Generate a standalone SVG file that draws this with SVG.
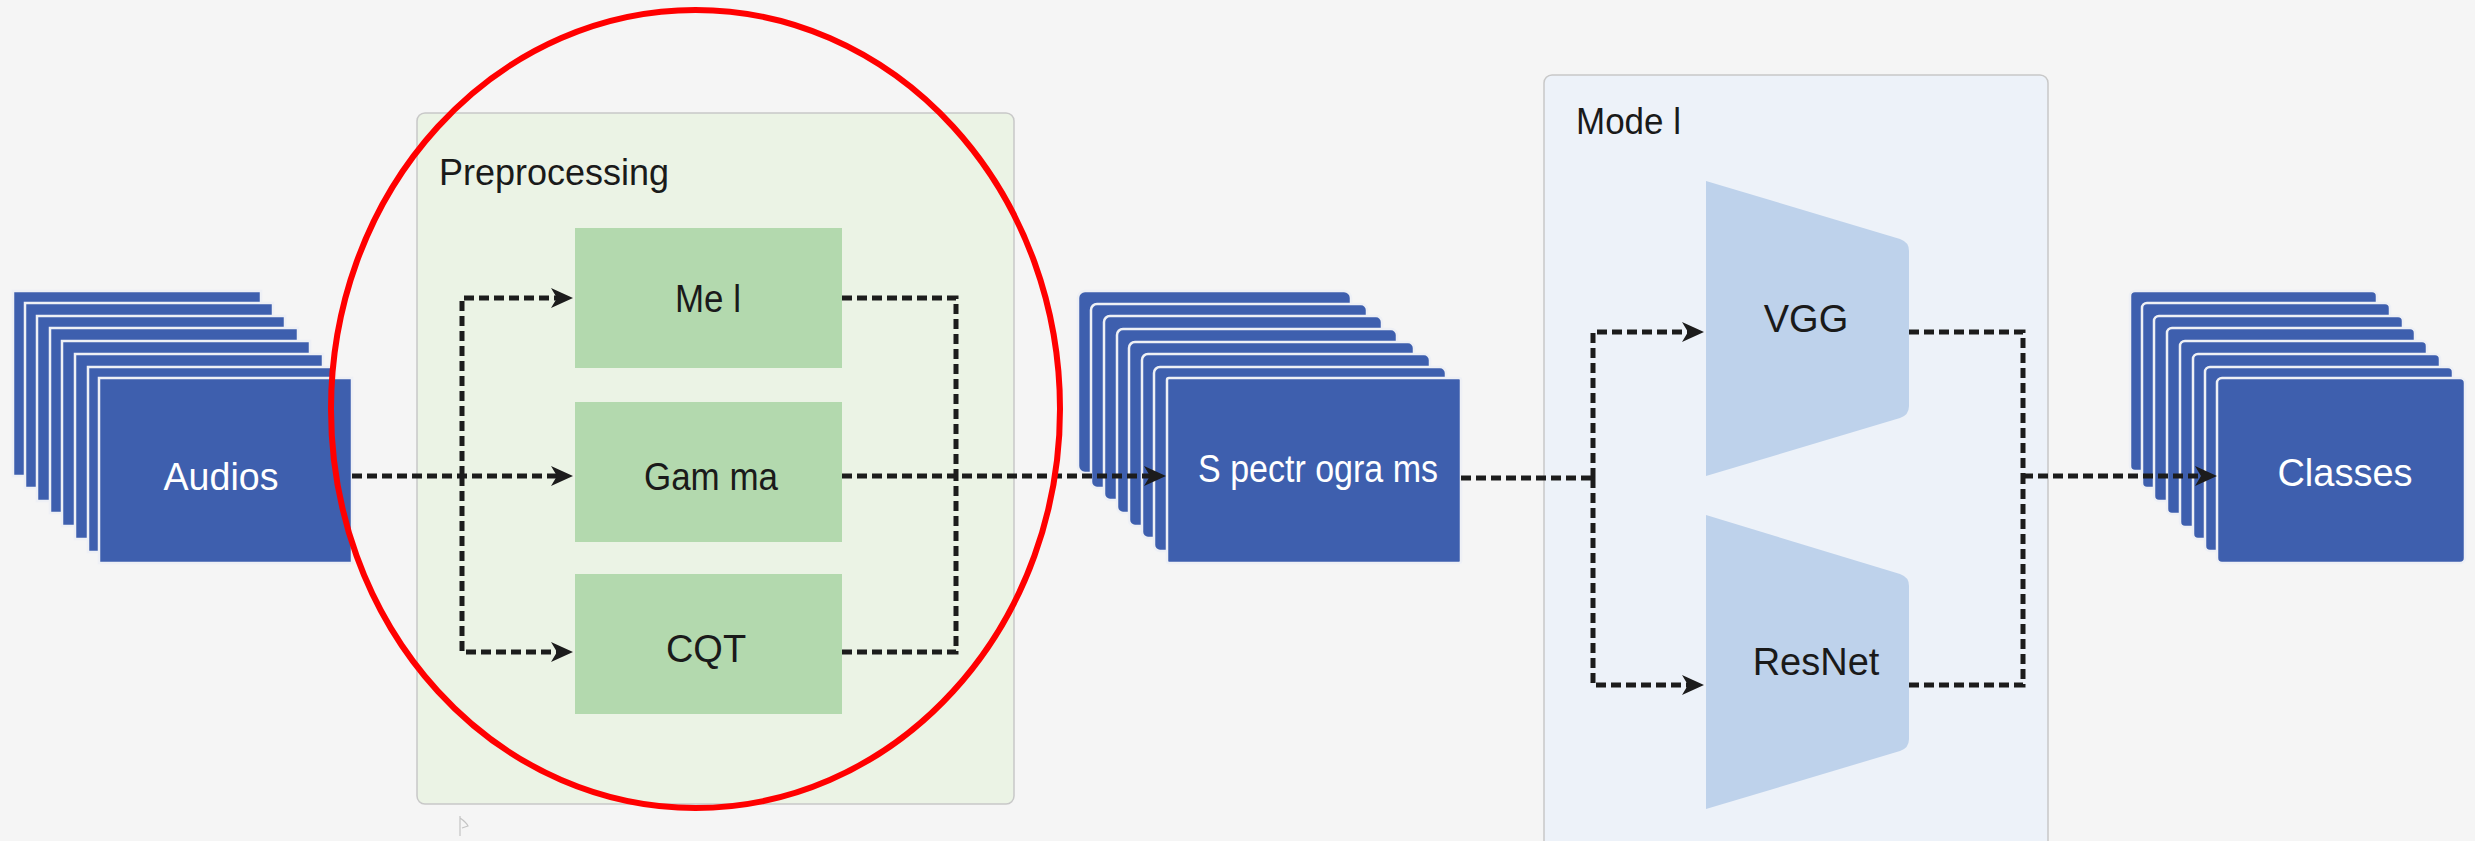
<svg xmlns="http://www.w3.org/2000/svg" width="2475" height="841" viewBox="0 0 2475 841">
  <style>
    .bg { fill: #f5f5f5; }
    .layer { fill: #3e5fae; stroke: #eef0f5; stroke-width: 2.5; }
    .group-pre { fill: #ebf3e5; stroke: #c8c8c8; stroke-width: 1.5; }
    .group-model { fill: #edf2f9; stroke: #c8c8c8; stroke-width: 1.5; }
    .step { fill: #b3d9ae; }
    .net { fill: #bed2eb; }
    .title { font-family: "Liberation Sans", Arial, sans-serif; font-size: 37px; fill: #1a1a1a; }
    .label { font-family: "Liberation Sans", Arial, sans-serif; font-size: 38px; fill: #1a1a1a; text-anchor: middle; }
    .label-w { font-family: "Liberation Sans", Arial, sans-serif; font-size: 38px; fill: #ffffff; text-anchor: middle; }
    .flow { fill: none; stroke: #1c1c1c; stroke-width: 5; stroke-dasharray: 10 5; }
    .mark { fill: none; stroke: #ff0000; stroke-width: 6; }
  </style>
  <defs>
    <marker id="arrow" viewBox="0 0 22 22" refX="11" refY="11" markerWidth="22" markerHeight="22" markerUnits="userSpaceOnUse" orient="auto" overflow="visible">
      <path d="M0,1 L22,11 L0,21 L6,11 Z" fill="#1c1c1c"/>
    </marker>
  </defs>

  <rect class="bg" x="0" y="0" width="2475" height="841"/>

  <!-- containers -->
  <g id="preprocessing">
    <rect class="group-pre" x="417" y="113" width="597" height="691" rx="8"/>
    <text class="title" x="439" y="185" textLength="230" lengthAdjust="spacingAndGlyphs">Preprocessing</text>
  </g>
  <g id="model">
    <rect class="group-model" x="1544" y="75" width="504" height="800" rx="8"/>
    <text class="title" x="1576" y="134" textLength="105" lengthAdjust="spacingAndGlyphs">Mode l</text>
  </g>

  <!-- input stack -->
  <g id="audios">
    <rect class="layer" x="13" y="291" width="248" height="185"/>
    <rect class="layer" x="25" y="303" width="248" height="185"/>
    <rect class="layer" x="37" y="316" width="248" height="185"/>
    <rect class="layer" x="50" y="328" width="248" height="185"/>
    <rect class="layer" x="62" y="341" width="248" height="185"/>
    <rect class="layer" x="75" y="354" width="248" height="185"/>
    <rect class="layer" x="88" y="367" width="248" height="185"/>
    <rect class="layer" x="99" y="378" width="253" height="185"/>
    <text class="label-w" x="221" y="490" textLength="115" lengthAdjust="spacingAndGlyphs">Audios</text>
  </g>

  <!-- transforms -->
  <g id="mel">
    <rect class="step" x="575" y="228" width="267" height="140"/>
    <text class="label" x="708" y="312" textLength="66" lengthAdjust="spacingAndGlyphs">Me l</text>
  </g>
  <g id="gamma">
    <rect class="step" x="575" y="402" width="267" height="140"/>
    <text class="label" x="711" y="490" textLength="134" lengthAdjust="spacingAndGlyphs">Gam ma</text>
  </g>
  <g id="cqt">
    <rect class="step" x="575" y="574" width="267" height="140"/>
    <text class="label" x="706" y="662">CQT</text>
  </g>

  <!-- spectrogram stack -->
  <g id="spectrograms">
    <rect class="layer" x="1078" y="291" width="273" height="182" rx="7"/>
    <rect class="layer" x="1091" y="304" width="276" height="184" rx="6"/>
    <rect class="layer" x="1104" y="316" width="278" height="184" rx="6"/>
    <rect class="layer" x="1117" y="329" width="280" height="184" rx="6"/>
    <rect class="layer" x="1129" y="342" width="285" height="184" rx="6"/>
    <rect class="layer" x="1142" y="354" width="288" height="184" rx="6"/>
    <rect class="layer" x="1154" y="367" width="292" height="184" rx="6"/>
    <rect class="layer" x="1167" y="378" width="294" height="185" rx="2"/>
    <text class="label-w" x="1318" y="482" textLength="240" lengthAdjust="spacingAndGlyphs">S pectr ogra ms</text>
  </g>

  <!-- networks -->
  <g id="vgg">
    <path class="net" d="M1706,181 L1900,239 Q1909,242 1909,251 L1909,406 Q1909,415 1900,418 L1706,476 Z"/>
    <text class="label" x="1806" y="332">VGG</text>
  </g>
  <g id="resnet">
    <path class="net" d="M1706,515 L1900,574 Q1909,577 1909,586 L1909,739 Q1909,748 1900,751 L1706,809 Z"/>
    <text class="label" x="1816" y="675">ResNet</text>
  </g>

  <!-- output stack -->
  <g id="classes">
    <rect class="layer" x="2130" y="291" width="247" height="180" rx="5"/>
    <rect class="layer" x="2142" y="303" width="248" height="185" rx="5"/>
    <rect class="layer" x="2154" y="316" width="249" height="185" rx="5"/>
    <rect class="layer" x="2167" y="328" width="248" height="186" rx="5"/>
    <rect class="layer" x="2180" y="341" width="247" height="186" rx="5"/>
    <rect class="layer" x="2193" y="354" width="247" height="185" rx="5"/>
    <rect class="layer" x="2205" y="367" width="248" height="184" rx="5"/>
    <rect class="layer" x="2217" y="378" width="248" height="185" rx="5"/>
    <text class="label-w" x="2345" y="486">Classes</text>
  </g>

  <!-- dashed flow lines -->
  <g id="connectors">
    <path class="flow" d="M352,476 H562" marker-end="url(#arrow)"/>
    <path class="flow" d="M462,476 V298 H562" marker-end="url(#arrow)"/>
    <path class="flow" d="M462,476 V652 H562" marker-end="url(#arrow)"/>
    <path class="flow" d="M842,298 H956 V476"/>
    <path class="flow" d="M842,652 H956 V476"/>
    <path class="flow" d="M842,476 H1155" marker-end="url(#arrow)"/>
    <path class="flow" d="M1461,478 H1593"/>
    <path class="flow" d="M1593,478 V332 H1693" marker-end="url(#arrow)"/>
    <path class="flow" d="M1593,478 V685 H1693" marker-end="url(#arrow)"/>
    <path class="flow" d="M1909,332 H2023 V476"/>
    <path class="flow" d="M1909,685 H2023 V476"/>
    <path class="flow" d="M2023,476 H2206" marker-end="url(#arrow)"/>
  </g>

  <!-- small pointer glyph below the preprocessing panel -->
  <path d="M460,816 L460,836 M460,818 Q466,822 468,826 L462,828" fill="none" stroke="#c4c4c4" stroke-width="1.2"/>

  <!-- red highlight ellipse -->
  <ellipse class="mark" cx="695.5" cy="409" rx="364.5" ry="399"/>
</svg>
